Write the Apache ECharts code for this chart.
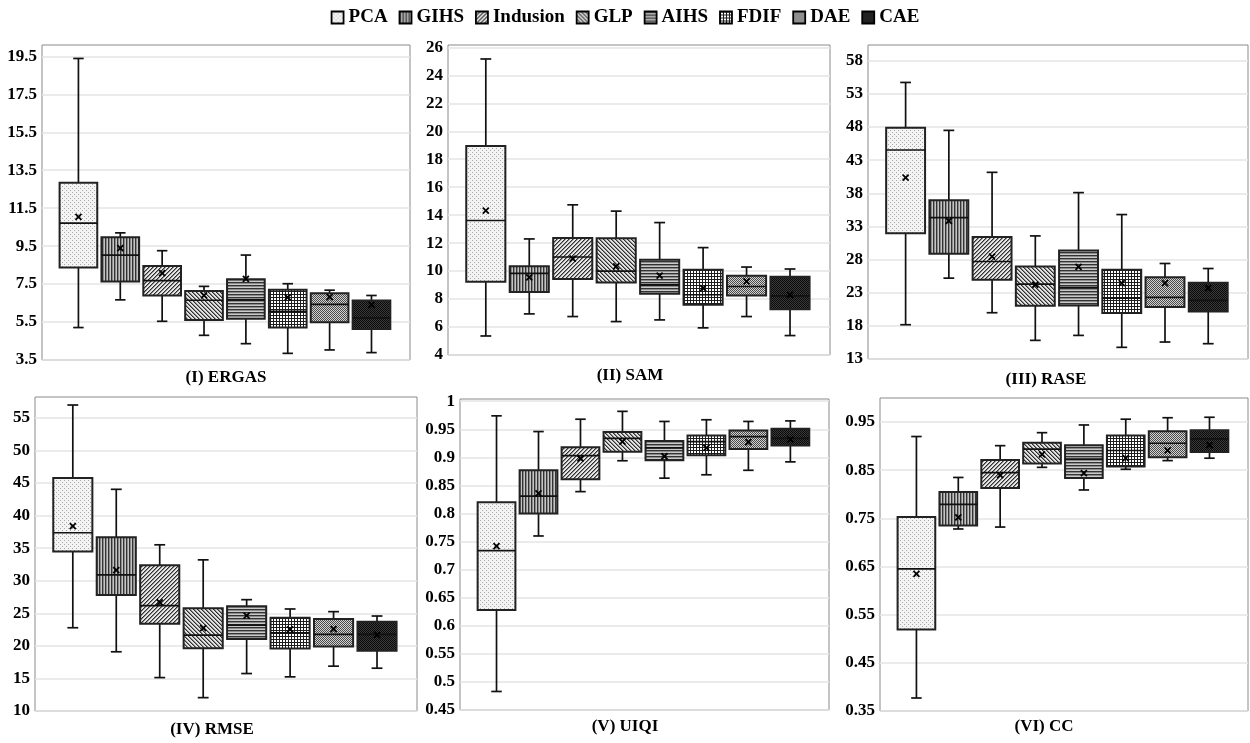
<!DOCTYPE html>
<html><head><meta charset="utf-8">
<script src="https://cdn.jsdelivr.net/npm/echarts@6/dist/echarts.min.js"></script>
<style>html,body{margin:0;padding:0;background:#fff}#chart{width:1250px;height:743px}</style>
</head><body><div id="chart"></div>
<script>
const methods = ['PCA', 'GIHS', 'Indusion', 'GLP', 'AIHS', 'FDIF', 'DAE', 'CAE'];

// each row (one per method): [min, Q1, median, Q3, max, mean]
const ergas = [
  [5.21, 8.38, 10.71, 12.84, 19.39, 11.04],
  [6.67, 7.64, 9.03, 9.97, 10.20, 9.40],
  [5.54, 6.90, 7.68, 8.45, 9.26, 8.08],
  [4.80, 5.61, 6.65, 7.13, 7.38, 6.90],
  [4.36, 5.67, 6.67, 7.76, 9.03, 7.78],
  [3.85, 5.21, 6.06, 7.20, 7.52, 6.80],
  [4.03, 5.49, 6.43, 7.02, 7.18, 6.81],
  [3.89, 5.14, 5.72, 6.64, 6.90, 6.40]
];
const sam = [
  [5.36, 9.24, 13.62, 18.95, 25.17, 14.33],
  [6.94, 8.50, 9.84, 10.34, 12.30, 9.55],
  [6.75, 9.43, 11.01, 12.37, 14.74, 10.89],
  [6.39, 9.19, 10.00, 12.35, 14.29, 10.34],
  [6.51, 8.38, 9.02, 10.82, 13.47, 9.67],
  [5.94, 7.59, 8.31, 10.10, 11.68, 8.78],
  [6.75, 8.26, 8.90, 9.67, 10.29, 9.26],
  [5.39, 7.28, 8.23, 9.60, 10.15, 8.30]
];
const rase = [
  [18.17, 31.98, 44.53, 47.89, 54.72, 40.36],
  [25.20, 28.86, 34.34, 36.95, 47.49, 33.83],
  [19.98, 24.95, 27.71, 31.42, 41.16, 28.46],
  [15.81, 21.03, 24.30, 26.96, 31.57, 24.20],
  [16.56, 21.08, 23.79, 29.37, 38.10, 26.91],
  [14.76, 19.93, 22.19, 26.45, 34.79, 24.45],
  [15.56, 20.83, 22.29, 25.35, 27.41, 24.45],
  [15.31, 20.18, 21.84, 24.50, 26.65, 23.69]
];
const rmse = [
  [22.78, 34.49, 37.36, 45.78, 56.97, 38.39],
  [19.09, 27.81, 30.89, 36.69, 44.03, 31.61],
  [15.13, 23.40, 26.17, 32.38, 35.51, 26.68],
  [12.05, 19.65, 21.65, 25.76, 33.20, 22.73],
  [15.75, 21.04, 23.19, 26.07, 27.09, 24.63],
  [15.24, 19.60, 22.01, 24.32, 25.66, 22.53],
  [16.88, 19.91, 21.76, 24.12, 25.25, 22.58],
  [16.57, 19.24, 21.76, 23.71, 24.58, 21.70]
];
const uiqi = [
  [0.483, 0.628, 0.734, 0.820, 0.974, 0.742],
  [0.760, 0.800, 0.831, 0.877, 0.946, 0.836],
  [0.839, 0.861, 0.903, 0.918, 0.968, 0.898],
  [0.894, 0.910, 0.934, 0.945, 0.982, 0.928],
  [0.863, 0.895, 0.917, 0.929, 0.964, 0.902],
  [0.869, 0.904, 0.928, 0.939, 0.967, 0.917],
  [0.877, 0.915, 0.937, 0.948, 0.964, 0.927],
  [0.892, 0.921, 0.934, 0.951, 0.965, 0.932]
];
const cc = [
  [0.377, 0.519, 0.645, 0.753, 0.920, 0.635],
  [0.728, 0.735, 0.779, 0.805, 0.835, 0.752],
  [0.732, 0.813, 0.845, 0.871, 0.901, 0.840],
  [0.856, 0.864, 0.894, 0.907, 0.928, 0.883],
  [0.809, 0.834, 0.873, 0.902, 0.944, 0.844],
  [0.852, 0.858, 0.891, 0.922, 0.956, 0.875],
  [0.870, 0.877, 0.906, 0.931, 0.959, 0.891],
  [0.875, 0.888, 0.915, 0.933, 0.960, 0.902]
];

const ergasTicks = [3.5, 5.5, 7.5, 9.5, 11.5, 13.5, 15.5, 17.5, 19.5];
const samTicks = [4, 6, 8, 10, 12, 14, 16, 18, 20, 22, 24, 26];
const raseTicks = [13, 18, 23, 28, 33, 38, 43, 48, 53, 58];
const rmseTicks = [10, 15, 20, 25, 30, 35, 40, 45, 50, 55];
const uiqiTicks = [0.45, 0.5, 0.55, 0.6, 0.65, 0.7, 0.75, 0.8, 0.85, 0.9, 0.95, 1];
const ccTicks = [0.35, 0.45, 0.55, 0.65, 0.75, 0.85, 0.95];

const panelTitles = ['(I) ERGAS', '(II) SAM', '(III) RASE', '(IV) RMSE', '(V) UIQI', '(VI) CC'];

const FONT = "'Liberation Serif', 'Times New Roman', serif";

// ---------- fill patterns ----------
function makePattern(w, h, pix) {
  const c = document.createElement('canvas');
  c.width = w; c.height = h;
  const ctx = c.getContext('2d');
  for (let y = 0; y < h; y++) for (let x = 0; x < w; x++) {
    ctx.fillStyle = pix(x, y);
    ctx.fillRect(x, y, 1, 1);
  }
  return { image: c, repeat: 'repeat' };
}
const patterns = [
  makePattern(4, 4, (x, y) => ((x % 2 === 0 && y % 2 === 0 && (x + y) % 4 === 0) ? '#a8a8a8' : '#f4f4f4')),
  makePattern(3, 1, (x) => ['#333333', '#8a8a8a', '#c4c4c4'][x]),
  makePattern(4, 4, (x, y) => { const k = (x + y) % 4; return k === 3 ? '#2e2e2e' : (k === 0 ? '#8a8a8a' : '#e6e6e6'); }),
  makePattern(4, 4, (x, y) => { const k = ((x - y) % 4 + 4) % 4; return k === 0 ? '#2e2e2e' : (k === 1 ? '#8a8a8a' : '#e2e2e2'); }),
  makePattern(1, 3, (x, y) => ['#333333', '#8c8c8c', '#cacaca'][y]),
  makePattern(3, 3, (x, y) => (x === 0 || y === 0) ? '#1e1e1e' : '#ffffff'),
  makePattern(2, 2, (x, y) => ((x + y) % 2 === 0) ? '#4a4a4a' : '#d2d2d2'),
  makePattern(2, 2, (x, y) => ((x + y) % 2 === 0) ? '#0a0a0a' : '#3a3a3a')
];

// ---------- layout ----------
const panels = [
  { data: ergas, ticks: ergasTicks, min: 3.5, max: 20.1, grid: { left: 42, top: 45, width: 368, height: 315 }, tpos: [226, 369] },
  { data: sam, ticks: samTicks, min: 4, max: 26.17, grid: { left: 448, top: 45, width: 382, height: 310 }, tpos: [630, 367] },
  { data: rase, ticks: raseTicks, min: 13, max: 60.37, grid: { left: 868, top: 45, width: 380, height: 314 }, tpos: [1046, 371] },
  { data: rmse, ticks: rmseTicks, min: 10, max: 58.2, grid: { left: 35, top: 397, width: 382, height: 314 }, tpos: [212, 721] },
  { data: uiqi, ticks: uiqiTicks, min: 0.45, max: 1.004, grid: { left: 460, top: 399, width: 369, height: 311 }, tpos: [625, 718] },
  { data: cc, ticks: ccTicks, min: 0.35, max: 1.0, grid: { left: 880, top: 398, width: 368, height: 313 }, tpos: [1044, 718] }
];

function makeRender(mi) {
  return function (params, api) {
    const x = api.value(0);
    const mn = api.value(1), q1 = api.value(2), md = api.value(3), q3 = api.value(4), mx = api.value(5), mean = api.value(6);
    const cx = api.coord([x, md])[0];
    const yOf = v => api.coord([x, v])[1];
    const bw = api.size([0.9, 0])[0];
    const cw = api.size([0.25, 0])[0];
    const yMin = yOf(mn), yQ1 = yOf(q1), yMd = yOf(md), yQ3 = yOf(q3), yMax = yOf(mx), yMean = yOf(mean);
    const lineStyle = { stroke: '#111', lineWidth: 1.7 };
    const s = 3;
    return {
      type: 'group',
      children: [
        { type: 'line', shape: { x1: cx, y1: yQ3, x2: cx, y2: yMax }, style: lineStyle },
        { type: 'line', shape: { x1: cx, y1: yQ1, x2: cx, y2: yMin }, style: lineStyle },
        { type: 'line', shape: { x1: cx - cw / 2, y1: yMax, x2: cx + cw / 2, y2: yMax }, style: lineStyle },
        { type: 'line', shape: { x1: cx - cw / 2, y1: yMin, x2: cx + cw / 2, y2: yMin }, style: lineStyle },
        { type: 'rect', shape: { x: cx - bw / 2, y: yQ3, width: bw, height: yQ1 - yQ3 },
          style: { fill: patterns[mi], stroke: '#222', lineWidth: 2 } },
        { type: 'line', shape: { x1: cx - bw / 2, y1: yMd, x2: cx + bw / 2, y2: yMd }, style: lineStyle },
        { type: 'line', shape: { x1: cx - s, y1: yMean - s, x2: cx + s, y2: yMean + s }, style: { stroke: '#000', lineWidth: 1.8 } },
        { type: 'line', shape: { x1: cx - s, y1: yMean + s, x2: cx + s, y2: yMean - s }, style: { stroke: '#000', lineWidth: 1.8 } }
      ]
    };
  };
}

const grids = [], xAxes = [], yAxes = [], series = [], titles = [];
panels.forEach((p, pi) => {
  grids.push(Object.assign({ show: true, borderColor: '#8a8a8a', borderWidth: 1, backgroundColor: 'transparent' }, p.grid));
  xAxes.push({ type: 'value', gridIndex: pi, min: 0.13, max: 8.92, show: false });
  yAxes.push({
    type: 'value', gridIndex: pi, min: p.min, max: p.max,
    axisLine: { show: false },
    axisTick: { show: false, customValues: p.ticks },
    axisLabel: { customValues: p.ticks, color: '#000', fontFamily: FONT, fontWeight: 'bold', fontSize: 17, margin: 5 },
    splitLine: { show: true, lineStyle: { color: '#e4e4e4', width: 1.5 } }
  });
  titles.push({
    text: panelTitles[pi], left: p.tpos[0], top: p.tpos[1], textAlign: 'center', padding: 0,
    textStyle: { fontFamily: FONT, fontWeight: 'bold', fontSize: 17, color: '#000' }
  });
  methods.forEach((m, mi) => {
    series.push({
      type: 'custom', name: m, xAxisIndex: pi, yAxisIndex: pi,
      itemStyle: { color: patterns[mi], borderColor: '#000', borderWidth: 1.5 },
      renderItem: makeRender(mi),
      data: [[mi + 1].concat(p.data[mi])],
      z: 3
    });
  });
});

const chart = echarts.init(document.getElementById('chart'), null, { renderer: 'canvas' });
chart.setOption({
  animation: false,
  backgroundColor: '#fff',
  title: titles,
  legend: {
    data: methods, top: 3, left: 'center', icon: 'rect', itemWidth: 12, itemHeight: 12, itemGap: 11,
    itemStyle: { borderColor: '#000', borderWidth: 1.8 },
    textStyle: { fontFamily: FONT, fontWeight: 'bold', fontSize: 19, color: '#000', padding: [0, 0, 0, 0] }
  },
  grid: grids,
  xAxis: xAxes,
  yAxis: yAxes,
  series: series
});
</script>
</body></html>
